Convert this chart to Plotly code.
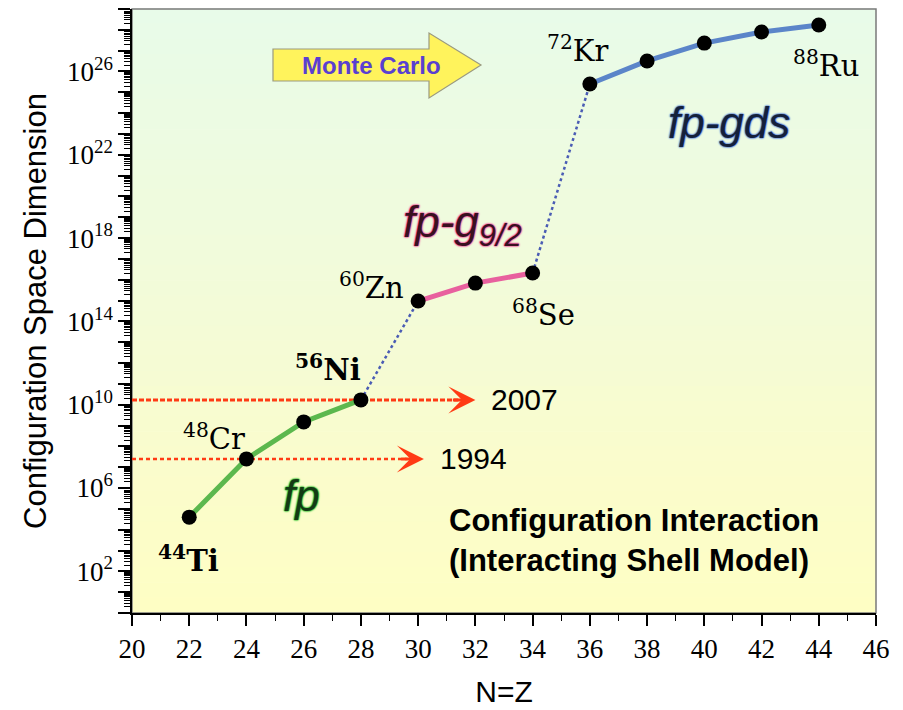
import math
import plotly.graph_objects as go

# ---------------- data ----------------
nz = [22, 24, 26, 28, 30, 32, 34, 36, 38, 40, 42, 44]
dimension = [4.0e4, 2.5e7, 1.5e9, 1.7e10, 9.5e14, 6.9e15, 2.1e16,
             2.5e25, 3.2e26, 2.3e27, 7.9e27, 1.7e28]

fp_idx = [0, 1, 2, 3]
fpg_idx = [4, 5, 6]
fpgds_idx = [7, 8, 9, 10, 11]
gap_pairs = [(3, 4), (6, 7)]

isotopes = {0: "<sup>44</sup>Ti", 1: "<sup>48</sup>Cr", 3: "<sup>56</sup>Ni",
            4: "<sup>60</sup>Zn", 6: "<sup>68</sup>Se", 7: "<sup>72</sup>Kr",
            11: "<sup>88</sup>Ru"}
iso_bold = {0: True, 3: True}
iso_shift = {0: (-1, -42), 1: (-32, 22), 3: (-33, 32), 4: (-47, 15),
             6: (11, -40), 7: (-12, 35), 11: (7, -39)}

milestone_years = ["1994", "2007"]
milestone_level_idx = [1, 3]
milestone_end_x = [30.2, 32.0]

y_label_exps = [2, 6, 10, 14, 18, 22, 26]

# ---------------- figure ----------------
fig = go.Figure()

GREEN = "#5cb84e"
PINK = "#e8609e"
BLUE = "#5b85c9"
DOT = "#4a5cb4"
RED = "#ff3a14"

for yr, li, xe in zip(milestone_years, milestone_level_idx, milestone_end_x):
    fig.add_trace(go.Scatter(x=[20, xe - 0.6], y=[dimension[li]] * 2, mode="lines",
                             line=dict(color=RED, width=3 if yr == "2007" else 2.5,
                                       dash="5px,2px" if yr == "2007" else "4px,3px"),
                             hoverinfo="skip", showlegend=False))

for a, b in gap_pairs:
    fig.add_trace(go.Scatter(x=[nz[a], nz[b]], y=[dimension[a], dimension[b]], mode="lines",
                             line=dict(color=DOT, width=2.5, dash="dot"),
                             hoverinfo="skip", showlegend=False))

for idx, col in [(fp_idx, GREEN), (fpg_idx, PINK), (fpgds_idx, BLUE)]:
    fig.add_trace(go.Scatter(x=[nz[i] for i in idx], y=[dimension[i] for i in idx],
                             mode="lines", line=dict(color=col, width=5),
                             hoverinfo="skip", showlegend=False))

fig.add_trace(go.Scatter(x=nz, y=dimension, mode="markers",
                         marker=dict(color="black", size=15),
                         showlegend=False))

anns = []
for yr, li, xe in zip(milestone_years, milestone_level_idx, milestone_end_x):
    ly = math.log10(dimension[li])
    anns.append(dict(x=xe, y=ly, xref="x", yref="y", text="", showarrow=True,
                     ax=-24, ay=0, arrowhead=3, arrowsize=1.5, arrowwidth=3,
                     arrowcolor=RED, standoff=0))
    anns.append(dict(x=xe, y=ly, xref="x", yref="y", text=yr, showarrow=False,
                     xanchor="left", yanchor="middle", xshift=14,
                     font=dict(family="Liberation Sans, Arial", size=30, color="black")))

for i, t in isotopes.items():
    dx, dy = iso_shift[i]
    txt = "<b>" + t + "</b>" if iso_bold.get(i) else t
    anns.append(dict(x=nz[i], y=math.log10(dimension[i]), xref="x", yref="y",
                     text=txt, showarrow=False, xshift=dx, yshift=dy,
                     xanchor="center", yanchor="middle",
                     font=dict(family="DejaVu Serif, Liberation Serif", size=29, color="black")))

def px2paper(px, py):
    return (px - 132) / 744.0, (613 - py) / 604.0

def outline(c):
    return f"0 0 2px {c}, 0 0 2px {c}, 0 0 1.5px {c}, 0 0 1px {c}"

for txt, (px, py), col, core in [("<i>fp</i>", (301, 495), "#36c036", "#143a14"),
                                  ("<i>fp-g<sub>9/2</sub></i>", (462, 225), "#f0509e", "#3a1020"),
                                  ("<i>fp-gds</i>", (729, 123), "#5b85d9", "#14203a")]:
    xp, yp = px2paper(px, py)
    anns.append(dict(x=xp, y=yp, xref="paper", yref="paper", text=txt, showarrow=False,
                     xanchor="center", yanchor="middle",
                     font=dict(family="Liberation Sans, Arial", size=44, color=core,
                               shadow=outline(col))))

xp, yp = px2paper(447, 540)
anns.append(dict(x=xp, y=yp, xref="paper", yref="paper",
                 text="<b>Configuration Interaction<br>(Interacting Shell Model)</b>",
                 showarrow=False, xanchor="left", yanchor="middle", align="left",
                 font=dict(family="Liberation Sans, Arial", size=31, color="black")))

xp, yp = px2paper(371, 65)
anns.append(dict(x=xp, y=yp, xref="paper", yref="paper", text="<b>Monte Carlo</b>",
                 showarrow=False, xanchor="center", yanchor="middle",
                 font=dict(family="Liberation Sans, Arial", size=24, color="#5a3fd0")))

shapes = []
stops = [(0.0, (232, 251, 233)), (0.5, (243, 251, 216)), (0.75, (250, 252, 204)), (1.0, (254, 254, 196))]
def col_at(t):
    for (t0, c0), (t1, c1) in zip(stops[:-1], stops[1:]):
        if t0 <= t <= t1:
            f = (t - t0) / (t1 - t0)
            return "rgb(%d,%d,%d)" % tuple(round(a + (b - a) * f) for a, b in zip(c0, c1))
    return "rgb(254,254,196)"
N = 40
for k in range(N):
    t = (k + 0.5) / N
    shapes.append(dict(type="rect", xref="paper", yref="paper", x0=0, x1=1,
                       y0=1 - (k + 1) / N, y1=1 - k / N + 0.001, layer="below",
                       line=dict(width=0), fillcolor=col_at(t)))
shapes.append(dict(type="rect", xref="paper", yref="paper", x0=0, x1=1, y0=0, y1=1,
                   layer="below", line=dict(color="#7a7a7a", width=1.5), fillcolor="rgba(0,0,0,0)"))

pts = [(273, 49), (429, 49), (429, 33), (481, 65), (429, 98), (429, 81), (273, 81)]
pp = [px2paper(a, b) for a, b in pts]
path = "M " + " L ".join(f"{a:.4f},{b:.4f}" for a, b in pp) + " Z"
shapes.append(dict(type="path", xref="paper", yref="paper", path=path,
                   fillcolor="#fff35c", line=dict(color="#9a9a80", width=1.2), layer="above"))

major_vals = [10.0 ** k for k in range(0, 30)]
major_text = [("10<sup>%d</sup>" % k) if k in y_label_exps else "" for k in range(0, 30)]
minor_vals = [m * 10.0 ** k for k in range(0, 29) for m in range(2, 10)]

# page body has an 8px margin: compensate so the plot area lands at 132..876 x 9..613
fig.update_layout(
    width=895, height=702,
    margin=dict(l=124, r=27, t=1, b=97, autoexpand=False),
    paper_bgcolor="white", plot_bgcolor="rgba(0,0,0,0)",
    shapes=shapes, annotations=anns, showlegend=False,
    xaxis=dict(range=[20, 46], tickmode="linear", tick0=20, dtick=2,
               ticks="outside", ticklen=11, tickwidth=1.5, tickcolor="black",
               minor=dict(ticks="outside", ticklen=6, dtick=1, tickcolor="black", tickwidth=1),
               showline=True, linecolor="black", linewidth=1.5, showgrid=False, zeroline=False,
               tickfont=dict(family="Liberation Serif, Times New Roman", size=27, color="black"),
               title=dict(text="N=Z", standoff=18,
                          font=dict(family="Liberation Sans Narrow, Liberation Sans", size=30, color="black"))),
    yaxis=dict(type="log", range=[0, 29], tickmode="array", tickvals=major_vals, ticktext=major_text,
               ticks="outside", ticklen=12, tickwidth=2, tickcolor="black",
               minor=dict(tickmode="array", tickvals=minor_vals, ticks="outside", ticklen=6,
                          tickcolor="black", tickwidth=1),
               showline=True, linecolor="black", linewidth=1.5, showgrid=False, zeroline=False,
               tickfont=dict(family="Liberation Serif, Times New Roman", size=27, color="black"),
               title=dict(text="Configuration Space Dimension", standoff=11,
                          font=dict(family="Liberation Sans, Arial", size=31, color="black"))),
)

fig.write_html("out.html")
